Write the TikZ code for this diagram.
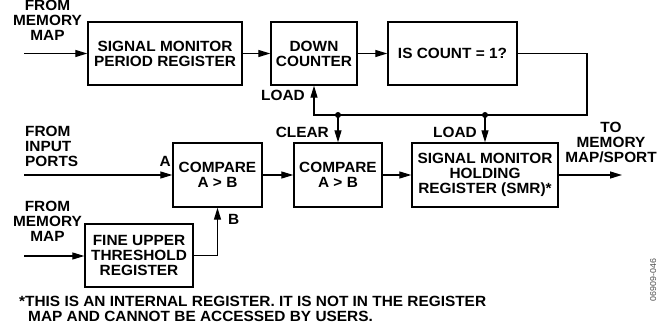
\documentclass[tikz,border=0pt]{standalone}
\usepackage{fontspec}
\setmainfont{Liberation Sans}[FakeStretch=1.04]
\usetikzlibrary{arrows.meta}
\begin{document}
\begin{tikzpicture}[x=1pt,y=-1pt,
  blk/.style={draw, line width=1.4pt, inner sep=0pt, align=center,
    font=\fontsize{14.8}{15}\selectfont\bfseries},
  lbl/.style={inner sep=0pt, font=\fontsize{14.8}{15}\selectfont\bfseries},
  fnt/.style={inner sep=0pt, anchor=base west, font=\fontsize{14.8}{15}\selectfont\bfseries},
  wire/.style={line width=1.3pt},
  arr/.style={wire, -{Triangle[length=12pt,width=7pt]}},
  dot/.style={circle, fill, inner sep=0pt, minimum size=6pt}
]
\useasboundingbox (0,0) rectangle (665,329);

% boxes
\node[blk, minimum width=154pt, minimum height=63pt] (smpr) at (165,53.5) {SIGNAL MONITOR\\PERIOD REGISTER};
\node[blk, minimum width=86pt, minimum height=63pt] (dc) at (314,53.5) {DOWN\\COUNTER};
\node[blk, minimum width=129pt, minimum height=63pt] (cnt) at (452.5,53.5) {IS COUNT = 1?};
\node[blk, minimum width=89pt, minimum height=64pt] (cmpa) at (217.5,175) {COMPARE\\A > B};
\node[blk, minimum width=88pt, minimum height=64pt] (cmpb) at (338,175) {COMPARE\\A > B};
\node[blk, minimum width=146pt, minimum height=64pt] (smr) at (485,175) {SIGNAL MONITOR\\HOLDING\\REGISTER (SMR)*};
\node[blk, minimum width=108pt, minimum height=63pt] (futr) at (139,255.5) {FINE UPPER\\THRESHOLD\\REGISTER};

% free ends and junctions
\coordinate (in1) at (24,53.5);
\coordinate (in2) at (24,175);
\coordinate (in3) at (24,256);
\coordinate (out) at (622,175);
\coordinate (fb) at (587,115);
\coordinate (d1) at (cmpb.north |- fb);
\coordinate (d2) at (smr.north |- fb);

% connectors
\draw[arr] (in1) -- (smpr.west);
\draw[arr] (smpr.east) -- (dc.west);
\draw[arr] (dc.east) -- (cnt.west);
\draw[arr] (cnt.east) -| (fb) -| (dc.south);
\draw[arr] (d1) -- (cmpb.north);
\draw[arr] (d2) -- (smr.north);
\node[dot] (dt1) at (d1) {};
\node[dot] (dt2) at (d2) {};
\draw[arr] (in2) -- (cmpa.west);
\draw[arr] (cmpa.east) -- (cmpb.west);
\draw[arr] (cmpb.east) -- (smr.west);
\draw[arr] (smr.east) -- (out);
\draw[arr] (in3) -- (in3 -| futr.west);
\draw[arr] (futr.east) -| (cmpa.south);

% labels (base anchor = baseline of last line)
\node[lbl, align=center, anchor=base] (t1) at (47.5,41) {FROM\\MEMORY\\MAP};
\node[lbl, align=left, anchor=base west] (t2) at (25,167) {FROM\\INPUT\\PORTS};
\node[lbl, align=center, anchor=base] (t3) at (47.5,241) {FROM\\MEMORY\\MAP};
\node[lbl, align=center, anchor=base] (t4) at (611,162) {TO\\MEMORY\\MAP/SPORT};
\node[lbl, anchor=base east] (la) at (171,166) {A};
\node[lbl, anchor=base west] (lb) at (228,224) {B};
\node[lbl, anchor=base east] (ll1) at (305,101) {LOAD};
\node[lbl, anchor=base east] (lc) at (329,138) {CLEAR};
\node[lbl, anchor=base east] (ll2) at (477,138) {LOAD};

% footnote
\node[fnt] (fn1) at (19,306) {*THIS IS AN INTERNAL REGISTER. IT IS NOT IN THE REGISTER};
\node[fnt] (fn2) at (28,321) {MAP AND CANNOT BE ACCESSED BY USERS.};
\node[inner sep=0pt, rotate=90, anchor=base, text=black!70, font=\fontsize{8.5}{9}\selectfont] (fid) at (656,280) {06909-046};
\end{tikzpicture}
\end{document}
